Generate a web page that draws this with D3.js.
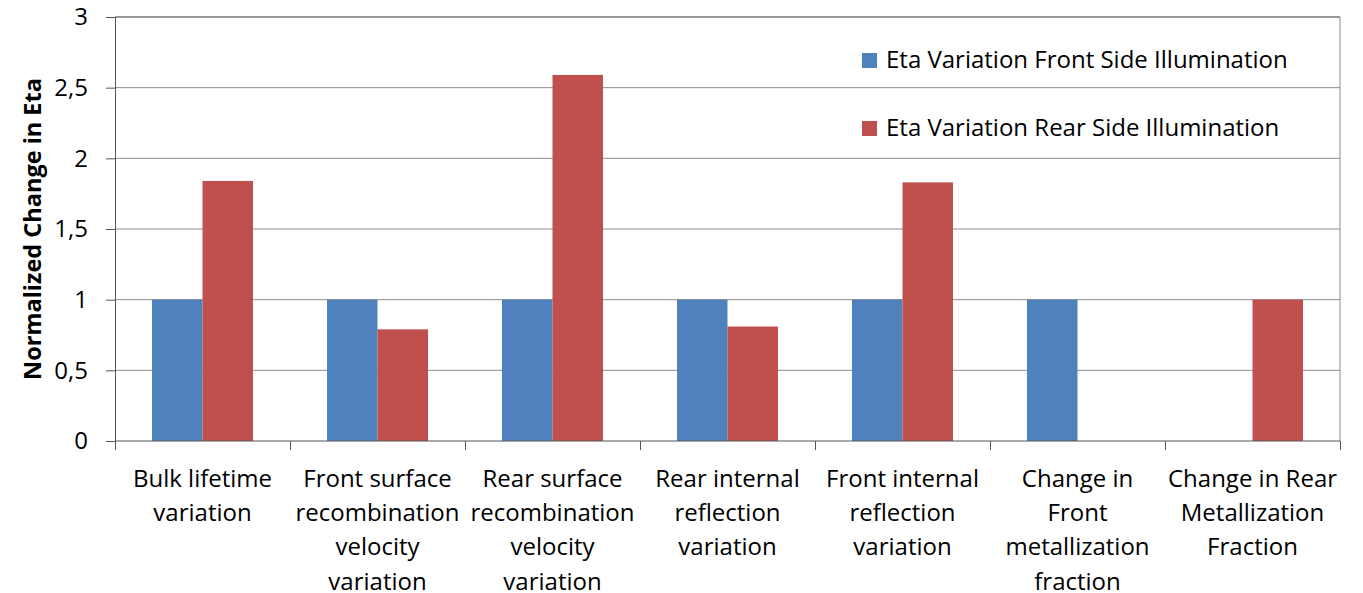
<!DOCTYPE html>
<html>
<head>
<meta charset="utf-8">
<script src="https://cdnjs.cloudflare.com/ajax/libs/d3/7.8.5/d3.min.js"></script>
<style>
  body { margin: 0; background: #fff; }
  text { font-family: "Open Sans", sans-serif; fill: #000; }
</style>
</head>
<body>
<div class="visContainer"></div>
<script>
const categories = [
    ['Bulk lifetime', 'variation'],
    ['Front surface', 'recombination', 'velocity', 'variation'],
    ['Rear surface', 'recombination', 'velocity', 'variation'],
    ['Rear internal', 'reflection', 'variation'],
    ['Front internal', 'reflection', 'variation'],
    ['Change in', 'Front', 'metallization', 'fraction'],
    ['Change in Rear', 'Metallization', 'Fraction']
];
const seriesNames = ['Eta Variation Front Side Illumination', 'Eta Variation Rear Side Illumination'];
const frontValues = [1, 1, 1, 1, 1, 1, 0];
const rearValues = [1.84, 0.79, 2.59, 0.81, 1.83, 0, 1];
const yTicks = [0, 0.5, 1, 1.5, 2, 2.5, 3];
const colors = ['#4F81BD', '#C0504D'];

const width = 1363;
const height = 593;
const plotLeft = 115, plotRight = 1340, plotTop = 17, plotBottom = 441;
const fontSize = '24px';

const svg = d3.select('.visContainer')
              .append('svg')
              .attr('width', width)
              .attr('height', height);

const x0 = d3.scaleBand()
             .domain(d3.range(categories.length))
             .range([plotLeft, plotRight])
             .padding(0);
const x1 = d3.scaleBand()
             .domain([0, 1])
             .range([0, x0.bandwidth()])
             .paddingInner(0)
             .paddingOuter(0.733);
const y = d3.scaleLinear().domain([0, 3]).range([plotBottom, plotTop]);

// gridlines
svg.append('g')
   .selectAll('line')
   .data(yTicks.slice(1))
   .enter()
   .append('line')
   .attr('x1', plotLeft).attr('x2', plotRight)
   .attr('y1', d => y(d)).attr('y2', d => y(d))
   .attr('stroke', d => d === 3 ? '#333' : '#8c8c8c')
   .attr('stroke-width', 1);

// right border
svg.append('line')
   .attr('x1', plotRight).attr('x2', plotRight)
   .attr('y1', plotTop).attr('y2', plotBottom)
   .attr('stroke', '#8c8c8c');

// bars
const rows = categories.map((c, i) => [frontValues[i], rearValues[i]]);
const groups = svg.append('g')
   .selectAll('g')
   .data(rows)
   .enter()
   .append('g')
   .attr('transform', (d, i) => 'translate(' + x0(i) + ',0)');
groups.selectAll('rect')
   .data(d => d)
   .enter()
   .append('rect')
   .attr('x', (d, j) => x1(j))
   .attr('width', x1.bandwidth())
   .attr('y', d => y(d))
   .attr('height', d => y(0) - y(d))
   .attr('fill', (d, j) => colors[j]);

// y axis
const yAxis = d3.axisLeft(y)
                .tickValues(yTicks)
                .tickSize(9)
                .tickPadding(18)
                .tickFormat(d => String(d).replace('.', ','));
const ya = svg.append('g')
   .attr('id', 'y-axis')
   .attr('transform', 'translate(' + plotLeft + ',0)')
   .call(yAxis);
ya.select('.domain').attr('stroke', '#555');
ya.selectAll('.tick line').attr('stroke', '#555');
ya.selectAll('.tick text').style('font-size', fontSize).style('font-family', '"Open Sans", sans-serif').attr('fill', '#000');

// x axis
const xAxis = d3.axisBottom(d3.scaleLinear().domain([0, categories.length]).range([plotLeft, plotRight]))
                .tickValues(d3.range(categories.length + 1))
                .tickSize(9)
                .tickFormat('');
const xa = svg.append('g')
   .attr('id', 'x-axis')
   .attr('transform', 'translate(0,' + plotBottom + ')')
   .call(xAxis);
xa.select('.domain').attr('stroke', '#555').attr('d', 'M' + plotLeft + ',0H' + plotRight);
xa.selectAll('.tick line').attr('stroke', '#555');

// category labels
svg.append('g')
   .selectAll('text')
   .data(categories)
   .enter()
   .append('text')
   .attr('text-anchor', 'middle')
   .style('font-size', fontSize)
   .attr('transform', (d, i) => 'translate(' + (x0(i) + x0.bandwidth() / 2) + ',487)')
   .selectAll('tspan')
   .data(d => d)
   .enter()
   .append('tspan')
   .attr('x', 0)
   .attr('y', (d, k) => k * 34.2)
   .text(d => d);

// y title
svg.append('text')
   .attr('transform', 'translate(41,' + ((plotTop + plotBottom) / 2) + ') rotate(-90)')
   .attr('text-anchor', 'middle')
   .style('font-size', '23.5px')
   .style('font-weight', 'bold')
   .text('Normalized Change in Eta');

// legend
const legend = svg.append('g')
   .selectAll('g')
   .data(seriesNames)
   .enter()
   .append('g')
   .attr('transform', (d, i) => 'translate(862,' + (60 + i * 68) + ')');
legend.append('rect')
   .attr('x', 0).attr('y', -7)
   .attr('width', 15).attr('height', 15)
   .attr('fill', (d, i) => colors[i]);
legend.append('text')
   .attr('x', 24).attr('y', 8)
   .style('font-size', fontSize)
   .text(d => d);
</script>
</body>
</html>
